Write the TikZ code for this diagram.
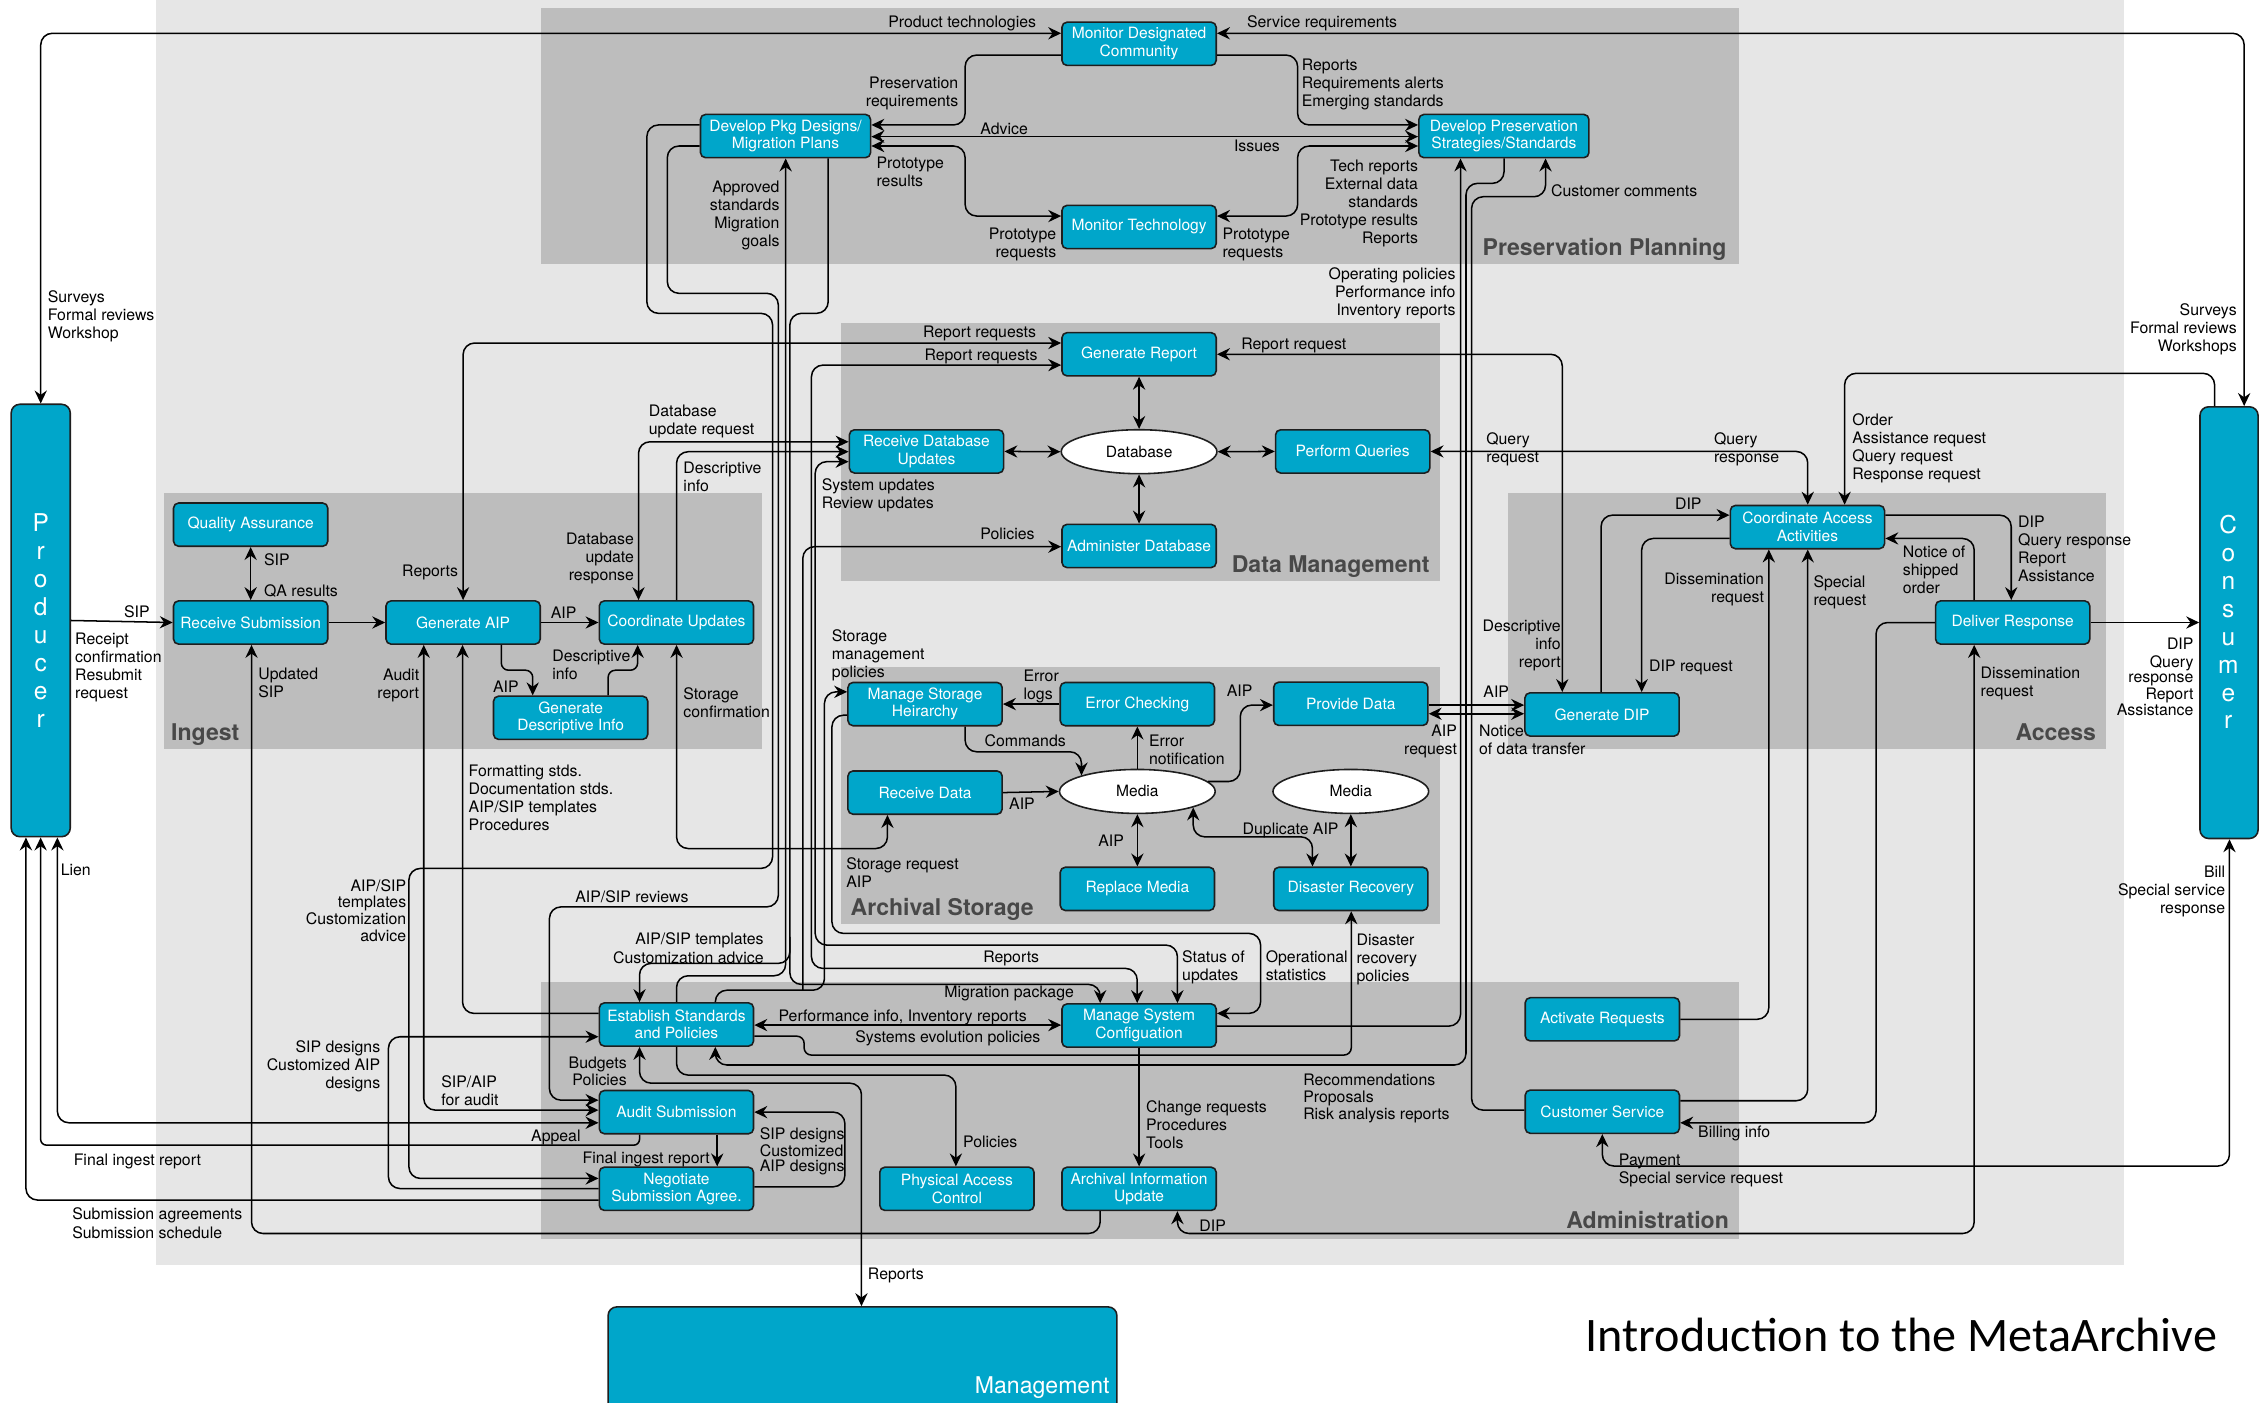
\documentclass[tikz,border=0pt]{standalone}
\usepackage{fontspec}
\setmainfont{TeX Gyre Heros}
\newfontfamily\ttlfont{Carlito}
\usetikzlibrary{arrows.meta,shapes.geometric}
\definecolor{oblue}{RGB}{0,166,202}
\definecolor{bglight}{RGB}{230,230,230}
\definecolor{bgsec}{RGB}{189,189,189}
\definecolor{sectxt}{RGB}{72,72,72}
\definecolor{edgec}{RGB}{30,30,30}
\newcommand{\lfnt}{\fontsize{11}{12.5}\selectfont}
\newcommand{\lfntm}{\fontsize{11}{11.5}\selectfont}
\newcommand{\lfntt}{\fontsize{11}{10.4}\selectfont}
\newcommand{\bxfnt}{\fontsize{10.8}{12.2}\selectfont}
\begin{document}
\begin{tikzpicture}[x=1pt,y=-1pt,
  >={Stealth[length=9pt,width=8.5pt,inset=3pt]},
  fnbox/.style={draw=edgec,line width=1.1pt,fill=oblue,rounded corners=3.5pt,minimum width=107pt,minimum height=30pt,inner sep=1pt,text=white,align=center,font=\bxfnt},
  widebox/.style={minimum width=118pt},
  store/.style={ellipse,draw=edgec,line width=1.1pt,fill=white,minimum width=108pt,minimum height=30.5pt,inner sep=0pt,font=\bxfnt},
  ext/.style={draw=edgec,line width=1.1pt,fill=oblue,rounded corners=6pt},
  conn/.style={line width=1.05pt,rounded corners=8pt},
  lL/.style={anchor=north west,align=left,inner sep=0pt,font=\lfnt,yshift=4.75pt},
  lR/.style={anchor=north east,align=right,inner sep=0pt,font=\lfnt,yshift=4.75pt},
  lLm/.style={anchor=north west,align=left,inner sep=0pt,font=\lfntm,yshift=4.05pt},
  lRm/.style={anchor=north east,align=right,inner sep=0pt,font=\lfntm,yshift=4.05pt},
  lLt/.style={anchor=north west,align=left,inner sep=0pt,font=\lfntt,yshift=3.3pt},
  lRt/.style={anchor=north east,align=right,inner sep=0pt,font=\lfntt,yshift=3.3pt},
  sect/.style={inner sep=0pt,font=\bfseries\fontsize{16}{18}\selectfont,text=sectxt},
  letter/.style={inner sep=0pt,anchor=base,text=white,font=\fontsize{17}{17}\selectfont}
]
\useasboundingbox (0,0) rectangle (1568,973);
\fill[white] (0,0) rectangle (1568,973);
% backgrounds
\fill[bglight] (108.3,0) rectangle (1473.6,877.8);
\fill[bgsec] (375.6,5.8) rectangle (1206.7,183.4);
\fill[bgsec] (583.6,224) rectangle (998.8,402.9);
\fill[bgsec] (113.5,342) rectangle (528.4,519.5);
\fill[bgsec] (1046.1,342) rectangle (1461.3,519.5);
\fill[bgsec] (583.6,463) rectangle (998.8,641.2);
\fill[bgsec] (375.6,681.6) rectangle (1206.7,859.3);
\node[sect,anchor=base east] (tPP) at (1198,177.5) {Preservation Planning};
\node[sect,anchor=base east] (tDM) at (992,397) {Data Management};
\node[sect,anchor=base west] (tIN) at (118.6,513.5) {Ingest};
\node[sect,anchor=base east] (tAC) at (1454.4,513.5) {Access};
\node[sect,anchor=base west] (tAS) at (590,635) {Archival Storage};
\node[sect,anchor=base east] (tAD) at (1199.7,852) {Administration};

% external entities
\node[ext,minimum width=41pt,minimum height=300pt] (Producer) at (28.25,430.5) {};
\foreach \ch [count=\i from 0] in {P,r,o,d,u,c,e,r}
  \node[letter] (pl\i) at ({28.25},{369+19.36*\i}) {\ch};
\node[ext,minimum width=40.3pt,minimum height=299.5pt] (Consumer) at (1546.5,432) {};
\foreach \ch [count=\i from 0] in {C,o,n,s,u,m,e,r}
  \node[letter] (cl\i) at ({1546},{370.4+19.33*\i}) {\ch};
\node[ext,minimum width=353pt,minimum height=100pt,anchor=north] (Management) at (598.4,906.2) {};
\node[anchor=base east,inner sep=0pt,text=white,font=\fontsize{16}{18}\selectfont] (mglab) at (770,967) {Management};

% functions
\node[fnbox] (MDC) at (790.3,30.4) {Monitor Designated\\Community};
\node[fnbox,widebox] (DPD) at (545,94.4) {Develop Pkg Designs/\\Migration Plans};
\node[fnbox,widebox] (DPS) at (1043.4,94.4) {Develop Preservation\\Strategies/Standards};
\node[fnbox] (MT) at (790.3,157.5) {Monitor Technology};
\node[fnbox] (GR) at (790.3,245.8) {Generate Report};
\node[fnbox] (RDU) at (642.8,313.2) {Receive Database\\Updates};
\node[store] (DB) at (790.3,313.4) {Database};
\node[fnbox] (PQ) at (938.5,313.2) {Perform Queries};
\node[fnbox] (ADB) at (790.3,378.8) {Administer Database};
\node[fnbox] (QA) at (173.9,364) {Quality Assurance};
\node[fnbox] (RS) at (173.9,431.9) {Receive Submission};
\node[fnbox] (GAIP) at (321.3,431.9) {Generate AIP};
\node[fnbox] (CU) at (469.3,431.9) {Coordinate Updates};
\node[fnbox] (GDI) at (395.9,498) {Generate\\Descriptive Info};
\node[fnbox] (MSH) at (641.8,488.5) {Manage Storage\\Heirarchy};
\node[fnbox] (EC) at (789.1,488.5) {Error Checking};
\node[fnbox] (PD) at (937.2,488.3) {Provide Data};
\node[fnbox] (RD) at (641.8,549.9) {Receive Data};
\node[store] (M1) at (789.1,549.1) {Media};
\node[store] (M2) at (937.2,549.1) {Media};
\node[fnbox] (RM) at (789.1,616.7) {Replace Media};
\node[fnbox] (DR) at (937.2,616.7) {Disaster Recovery};
\node[fnbox] (CAA) at (1254,365.7) {Coordinate Access\\Activities};
\node[fnbox] (GDIP) at (1111.5,495.7) {Generate DIP};
\node[fnbox] (DRsp) at (1396.4,431.9) {Deliver Response};
\node[fnbox] (ESP) at (469.3,710.8) {Establish Standards\\and Policies};
\node[fnbox] (MSC) at (790.3,711.5) {Manage System\\Configuation};
\node[fnbox] (AR) at (1111.7,707.2) {Activate Requests};
\node[fnbox] (AS) at (469.3,771.6) {Audit Submission};
\node[fnbox] (CS) at (1111.7,771.3) {Customer Service};
\node[fnbox] (NSA) at (469.3,824.8) {Negotiate\\Submission Agree.};
\node[fnbox] (PAC) at (663.9,824.8) {Physical Access\\Control};
\node[fnbox] (AIU) at (790.3,824.8) {Archival Information\\Update};

% ---- connectors: preservation planning
\draw[conn,<->] (Producer.north) -- (28.25,23.1) -- (MDC.west |- 0,23.1);
\draw[conn,<->] (1557,0 |- Consumer.north) -- (1557,23.1) -- (MDC.east |- 0,23.1);
\draw[conn,->] (MDC.west |- 0,38.2) -- (669.6,38.2) -- (669.6,86.7) -- (DPD.east |- 0,86.7);
\draw[conn,->] (MDC.east |- 0,38.2) -- (900.3,38.2) -- (900.3,86.7) -- (DPS.west |- 0,86.7);
\draw[conn,<->] (DPD.east |- 0,94.8) -- (DPS.west |- 0,94.8);
\draw[conn,<->] (DPD.east |- 0,101.3) -- (669.6,101.3) -- (669.6,149.9) -- (MT.west |- 0,149.9);
\draw[conn,<->] (MT.east |- 0,149.9) -- (900.3,149.9) -- (900.3,101.3) -- (DPS.west |- 0,101.3);
\draw[conn,->] (MSC.east |- 0,711.9) -- (1013.3,711.9) -- (1013.3,0 |- DPS.south);
\draw[conn,->] (1043.5,0 |- DPS.south) -- (1043.5,127.2) -- (1017.1,127.2) -- (1017.1,738.9) -- (496.3,738.9) -- (496.3,0 |- ESP.south);
\draw[conn,->] (CS.west |- 0,770.2) -- (1021,770.2) -- (1021,136.5) -- (1072.3,136.5) -- (1072.3,0 |- DPS.south);
% ---- data management
\draw[conn,<->] (GAIP.north) -- (321.3,238) -- (GR.west |- 0,238);
\draw[conn,<->] (GR.west |- 0,253.3) -- (563,253.3) -- (563,671.9) -- (789,671.9) -- (789,0 |- MSC.north);
\draw[conn,<->] (443,0 |- CU.north) -- (443,306.5) -- (RDU.west |- 0,306.5);
\draw[conn,->] (469.4,0 |- CU.north) -- (469.4,313.4) -- (RDU.west |- 0,313.4);
\draw[conn,<->] (RDU.west |- 0,320.3) -- (565.6,320.3) -- (565.6,655.7) -- (816.9,655.7) -- (816.9,0 |- MSC.north);
\draw[conn,<->] (GR.south) -- (DB.north);
\draw[conn,<->] (RDU.east) -- (DB.west);
\draw[conn,<->] (DB.east) -- (PQ.west);
\draw[conn,<->] (DB.south) -- (ADB.north);
\draw[conn,<->] (GR.east) -- (1083.9,245.8) -- (1083.9,0 |- GDIP.north);
\draw[conn,<->] (PQ.east) -- (1254.2,313.2) -- (1254.2,0 |- CAA.north);
% ---- ingest
\draw[conn,->] (Producer.east |- 0,430.5) -- (RS.west);
\draw[conn,<->] (QA.south) -- (RS.north);
\draw[conn,->] (RS.east) -- (GAIP.west);
\draw[conn,->] (GAIP.east) -- (CU.west);
\draw[conn,rounded corners=5pt,->] (347.8,0 |- GAIP.south) -- (347.8,465) -- (369.6,465) -- (369.6,0 |- GDI.north);
\draw[conn,rounded corners=5pt,->] (421.9,0 |- GDI.north) -- (421.9,465) -- (442.4,465) -- (442.4,0 |- CU.south);
\draw[conn,<->] (469.4,0 |- CU.south) -- (469.4,588.7) -- (615.7,588.7) -- (615.7,0 |- RD.south);
\draw[conn,->] (763.3,0 |- AIU.south) -- (763.3,855.8) -- (174.5,855.8) -- (174.5,0 |- RS.south);
\draw[conn,->] (ESP.west |- 0,703.1) -- (320.9,703.1) -- (320.9,0 |- GAIP.south);
\draw[conn,<->] (294,0 |- GAIP.south) -- (294,770.2) -- (AS.west |- 0,770.2);
\draw[conn,->] (DPD.west |- 0,86.7) -- (448.8,86.7) -- (448.8,217.4) -- (536,217.4) -- (536,602.5) -- (283.7,602.5) -- (283.7,817.6) -- (NSA.west |- 0,817.6);
\draw[conn,->] (DPD.west |- 0,101.3) -- (463,101.3) -- (463,203.5) -- (540,203.5) -- (540,629.2) -- (381.2,629.2) -- (381.2,763.3) -- (AS.west |- 0,763.3);
\draw[conn,->] (NSA.west |- 0,824.6) -- (269.5,824.6) -- (269.5,719.3) -- (ESP.west |- 0,719.3);
\draw[conn,<->] (39.8,0 |- Producer.south) -- (39.8,779) -- (AS.west |- 0,779);
\draw[conn,rounded corners=4pt,->] (443.7,0 |- AS.south) -- (443.7,794.5) -- (28.2,794.5) -- (28.2,0 |- Producer.south);
\draw[conn,->] (NSA.west |- 0,832.6) -- (18,832.6) -- (18,0 |- Producer.south);
\draw[conn,->] (497.6,0 |- AS.south) -- (497.6,0 |- NSA.north);
\draw[conn,->] (NSA.east |- 0,823.4) -- (586.2,823.4) -- (586.2,771.6) -- (AS.east);
% ---- administration
\draw[conn,<->] (443.7,0 |- ESP.south) -- (443.7,751.5) -- (597.7,751.5) -- (597.7,0 |- Management.north);
\draw[conn,->] (469.4,0 |- ESP.south) -- (469.4,745.9) -- (663.2,745.9) -- (663.2,0 |- PAC.north);
\draw[conn,<->] (ESP.east |- 0,711.2) -- (MSC.west |- 0,711.2);
\draw[conn,rounded corners=5pt,->] (ESP.east |- 0,718.9) -- (557.9,718.9) -- (557.9,732) -- (937.5,732) -- (937.5,0 |- DR.south);
\draw[conn,->] (MSC.south) -- (AIU.north);
\draw[conn,->] (MSH.west |- 0,496.2) -- (577.2,496.2) -- (577.2,647.6) -- (874.6,647.6) -- (874.6,703.1) -- (MSC.east |- 0,703.1);
\draw[conn,->] (496.3,0 |- ESP.north) -- (496.3,687) -- (572,687) -- (572,480) -- (MSH.west |- 0,480);
\draw[conn,->] (557,687) -- (557,379.3) -- (ADB.west |- 0,379.3);
\draw[conn,->] (469.4,0 |- ESP.north) -- (469.4,677) -- (545.1,677) -- (545.1,0 |- DPD.south);
\draw[conn,->] (574.6,0 |- DPD.south) -- (574.6,217.4) -- (548,217.4) -- (548,668.4) -- (443.7,668.4) -- (443.7,0 |- ESP.north);
\draw[conn,->] (548,650) -- (548,683) -- (763.3,683) -- (763.3,0 |- MSC.north);
% ---- archival storage
\draw[conn,->] (EC.west) -- (MSH.east);
\draw[conn,->] (669.6,0 |- MSH.south) -- (669.6,521.6) -- (M1.164 |- 0,521.6) -- (M1.164);
\draw[conn,->] (M1.north) -- (EC.south);
\draw[conn,->] (M1.8) -- (860.5,0 |- M1.8) -- (860.5,489.2) -- (PD.west |- 0,489.2);
\draw[conn,->] (RD.east) -- (M1.west);
\draw[conn,<->] (M1.south) -- (RM.north);
\draw[conn,<->] (M2.south) -- (DR.north);
\draw[conn,<->] (M1.-16) -- (M1.-16 |- 0,580.6) -- (910.6,580.6) -- (910.6,0 |- DR.north);
% ---- access
\draw[conn,->] (1536.5,0 |- Consumer.north) -- (1536.5,259) -- (1279.8,259) -- (1279.8,0 |- CAA.north);
\draw[conn,->] (CAA.east |- 0,357.4) -- (1395.4,357.4) -- (1395.4,0 |- DRsp.north);
\draw[conn,->] (1369.7,0 |- DRsp.north) -- (1369.7,373.6) -- (CAA.east |- 0,373.6);
\draw[conn,->] (DRsp.east) -- (Consumer.west |- DRsp.east);
\draw[conn,->] (DRsp.west) -- (1301.6,431.9) -- (1301.6,779) -- (CS.east |- 0,779);
\draw[conn,<->] (1369.7,0 |- DRsp.south) -- (1369.7,855.8) -- (816.9,855.8) -- (816.9,0 |- AIU.south);
\draw[conn,->] (AR.east) -- (1227.2,707.2) -- (1227.2,0 |- CAA.south);
\draw[conn,->] (CS.east |- 0,763.7) -- (1254.2,763.7) -- (1254.2,0 |- CAA.south);
\draw[conn,<->] (CS.south) -- (1111.7,809) -- (1546.8,809) -- (1546.8,0 |- Consumer.south);
\draw[conn,->] (1110.8,0 |- GDIP.north) -- (1110.8,357.4) -- (CAA.west |- 0,357.4);
\draw[conn,->] (CAA.west |- 0,373.6) -- (1139,373.6) -- (1139,0 |- GDIP.north);
\draw[conn,->] (PD.east |- 0,489.2) -- (GDIP.west |- 0,489.2);
\draw[conn,<->] (PD.east |- 0,495.2) -- (GDIP.west |- 0,495.2);

% ---- labels
\node[lR] (a1) at (719,15) {\strut Product technologies};
\node[lL] (a2) at (865,15) {\strut Service requirements};
\node[lR] (a3) at (665,57) {\strut Preservation\\requirements};
\node[lL] (a4) at (903,45) {\strut Reports\\Requirements alerts\\Emerging standards};
\node[lL] (a5) at (680,89) {\strut Advice};
\node[lL] (a6) at (856,101) {\strut Issues};
\node[lL] (a7) at (608,113) {\strut Prototype\\results};
\node[lR] (a8) at (733,162) {\strut Prototype\\requests};
\node[lL] (a9) at (848,162) {\strut Prototype\\requests};
\node[lR] (a10) at (984,115) {\strut Tech reports\\External data\\standards\\Prototype results\\Reports};
\node[lR] (a11) at (541,129.5) {\strut Approved\\standards\\Migration\\goals};
\node[lL] (a12) at (1076,132) {\strut Customer comments};
\node[lR] (a13) at (1010,190) {\strut Operating policies\\Performance info\\Inventory reports};
\node[lL] (a14) at (33,206) {\strut Surveys\\Formal reviews\\Workshop};
\node[lR] (a15) at (1552,215) {\strut Surveys\\Formal reviews\\Workshops};
\node[lR] (b1) at (719,230) {\strut Report requests};
\node[lR] (b2) at (720,246) {\strut Report requests};
\node[lL] (b3) at (861,238) {\strut Report request};
\node[lL] (b4) at (450,285) {\strut Database\\update request};
\node[lL] (b5) at (474,324) {\strut Descriptive\\info};
\node[lL] (b6) at (570,336) {\strut System updates\\Review updates};
\node[lL] (b7) at (680,370) {\strut Policies};
\node[lL] (b8) at (1031,304) {\strut Query\\request};
\node[lL] (b9) at (1189,304) {\strut Query\\response};
\node[lL] (b10) at (1285,291) {\strut Order\\Assistance request\\Query request\\Response request};
\node[lL] (c1) at (183,388) {\strut SIP};
\node[lL] (c2) at (183,410) {\strut QA results};
\node[lR] (c3) at (104,424.4) {\strut SIP};
\node[lL] (c4) at (52,443) {\strut Receipt\\confirmation\\Resubmit\\request};
\node[lR] (c5) at (318,395.5) {\strut Reports};
\node[lR] (c6) at (440,373.6) {\strut Database\\update\\response};
\node[lL] (c7) at (382,425) {\strut AIP};
\node[lL] (c8) at (383,454.5) {\strut Descriptive\\info};
\node[lR] (c9) at (360,476.5) {\strut AIP};
\node[lL] (c10) at (179,467) {\strut Updated\\SIP};
\node[lR] (c11) at (291,468) {\strut Audit\\report};
\node[lL] (c12) at (474,481) {\strut Storage\\confirmation};
\node[lL] (c13) at (325,534.3) {\strut Formatting stds.\\Documentation stds.\\AIP/SIP templates\\Procedures};
\node[lRm] (c14) at (282,614) {\strut AIP/SIP\\templates\\Customization\\advice};
\node[lL] (c15) at (42,603) {\strut Lien};
\node[lL] (d1) at (577,440.6) {\strut Storage\\management\\policies};
\node[lL] (d2) at (710,468.4) {\strut Error\\logs};
\node[lL] (d3) at (851,478.8) {\strut AIP};
\node[lL] (d4) at (683,513.5) {\strut Commands};
\node[lL] (d5) at (797,513.5) {\strut Error\\notification};
\node[lL] (d6) at (700,557.4) {\strut AIP};
\node[lR] (d7) at (780,582.9) {\strut AIP};
\node[lL] (d8) at (862,574.8) {\strut Duplicate AIP};
\node[lL] (d9) at (587,599.1) {\strut Storage request\\AIP};
\node[lL] (e1) at (1029,480) {\strut AIP};
\node[lR] (e2) at (1011,506.6) {\strut AIP\\request};
\node[lL] (e3) at (1026,506.6) {\strut Notice\\of data transfer};
\node[lR] (e4) at (1083,433.7) {\strut Descriptive\\info\\report};
\node[lL] (e5) at (1162,349.3) {\strut DIP};
\node[lR] (e6) at (1224,401.3) {\strut Dissemination\\request};
\node[lL] (e7) at (1144,461.5) {\strut DIP request};
\node[lL] (e8) at (1258,403.6) {\strut Special\\request};
\node[lL] (e9) at (1320,382.8) {\strut Notice of\\shipped\\order};
\node[lL] (e10) at (1400,362) {\strut DIP\\Query response\\Report\\Assistance};
\node[lL] (e11) at (1374,466.8) {\strut Dissemination\\request};
\node[lRt] (e12) at (1522,446) {\strut DIP\\Query\\response\\Report\\Assistance};
\node[lR] (e13) at (1544,604.9) {\strut Bill\\Special service\\response};
\node[lL] (f1) at (399,622.2) {\strut AIP/SIP reviews};
\node[lRm] (f2) at (530,651.1) {\strut AIP/SIP templates\\Customization advice};
\node[lL] (f3) at (682,663.8) {\strut Reports};
\node[lL] (f4) at (655,687.6) {\strut Migration package};
\node[lL] (f5) at (540,704.3) {\strut Performance info, Inventory reports};
\node[lR] (f6) at (722,718.9) {\strut Systems evolution policies};
\node[lL] (f7) at (820,663.8) {\strut Status of\\updates};
\node[lL] (f8) at (878,663.8) {\strut Operational\\statistics};
\node[lL] (f9) at (941,651.8) {\strut Disaster\\recovery\\policies};
\node[lR] (f10) at (264,726.3) {\strut SIP designs\\Customized AIP\\designs};
\node[lL] (f11) at (306,750.5) {\strut SIP/AIP\\for audit};
\node[lRm] (f12) at (435,737.4) {\strut Budgets\\Policies};
\node[lR] (f13) at (403,787.5) {\strut Appeal};
\node[lL] (f14) at (51,804.4) {\strut Final ingest report};
\node[lL] (f15) at (404,803.3) {\strut Final ingest report};
\node[lLm] (f16) at (50,841.9) {\strut Submission agreements\\Submission schedule};
\node[lLt] (f17) at (527,785.2) {\strut SIP designs\\Customized\\AIP designs};
\node[lL] (f18) at (668,792.2) {\strut Policies};
\node[lL] (f19) at (795,767.4) {\strut Change requests\\Procedures\\Tools};
\node[lLt] (f20) at (904,748.2) {\strut Recommendations\\Proposals\\Risk analysis reports};
\node[lL] (f21) at (832,850) {\strut DIP};
\node[lL] (f22) at (1178,785.2) {\strut Billing info};
\node[lLm] (f23) at (1123,804.4) {\strut Payment\\Special service request};
\node[lL] (f24) at (602,883.5) {\strut Reports};

% title
\node[anchor=base west,inner sep=0pt,font=\ttlfont\fontsize{33.4}{36}\selectfont] (title) at (1100,938) {Introduction to the MetaArchive};
\end{tikzpicture}
\end{document}
